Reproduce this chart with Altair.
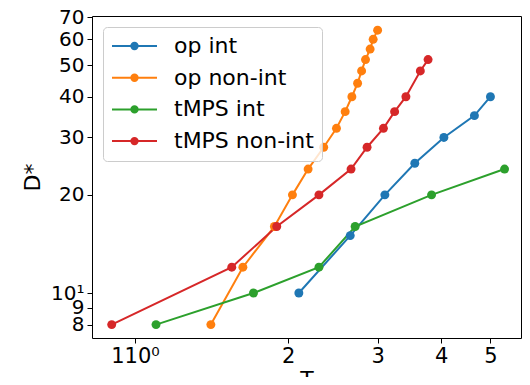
import altair as alt
import pandas as pd

series_names = ["op int", "op non-int", "tMPS int", "tMPS non-int"]
series_colors = ["#1f77b4", "#ff7f0e", "#2ca02c", "#d62728"]

op_int_T = [2.1, 2.65, 3.1, 3.55, 4.05, 4.65, 5.0]
op_int_D = [10, 15, 20, 25, 30, 35, 40]
op_nonint_T = [1.41, 1.63, 1.88, 2.04, 2.19, 2.35, 2.49, 2.59, 2.67, 2.74, 2.79, 2.84, 2.9, 2.94, 3.0]
op_nonint_D = [8, 12, 16, 20, 24, 28, 32, 36, 40, 44, 48, 52, 56, 60, 64]
tmps_int_T = [1.1, 1.71, 2.3, 2.71, 3.83, 5.33]
tmps_int_D = [8, 10, 12, 16, 20, 24]
tmps_nonint_T = [0.9, 1.55, 1.9, 2.3, 2.66, 2.86, 3.08, 3.24, 3.41, 3.64, 3.77]
tmps_nonint_D = [8, 12, 16, 20, 24, 28, 32, 36, 40, 48, 52]

x_ticks = [1, 2, 3, 4, 5]
y_ticks = [8, 9, 10, 20, 30, 40, 50, 60, 70]

rows = []
for name, Ts, Ds in zip(series_names,
                        [op_int_T, op_nonint_T, tmps_int_T, tmps_nonint_T],
                        [op_int_D, op_nonint_D, tmps_int_D, tmps_nonint_D]):
    for i, (t, d) in enumerate(zip(Ts, Ds)):
        rows.append({"series": name, "T": t, "D": d, "idx": i})
df = pd.DataFrame(rows)

FONT = "DejaVu Sans"

legend_symbol = (
    "M-1,0H1"
    "M0.142,0A0.142,0.142,0,1,1,-0.142,0A0.142,0.142,0,1,1,0.142,0"
    "M0.08,0A0.08,0.08,0,1,1,-0.08,0A0.08,0.08,0,1,1,0.08,0"
    "M0.027,0A0.027,0.027,0,1,1,-0.027,0A0.027,0.027,0,1,1,0.027,0"
)

x_enc = alt.X(
    "T:Q",
    scale=alt.Scale(type="log", domain=[0.8232, 5.742], nice=False),
    axis=alt.Axis(
        values=x_ticks,
        labelExpr="datum.value == 1 ? '110⁰' : format(datum.value, 'd')",
        labelFontSize=21, labelFont=FONT, labelColor="black",
        labelOverlap=False, labelFlush=False, labelPadding=2,
        tickSize=5, tickColor="black", domain=False, grid=False,
        title="T", titleFont=FONT, titleFontSize=22, titleFontWeight="normal",
        titleColor="black", titleY=48, titleBaseline="alphabetic",
    ),
)
y_enc = alt.Y(
    "D:Q",
    scale=alt.Scale(type="log", domain=[7.278, 70.74], nice=False),
    axis=alt.Axis(
        values=y_ticks,
        labelExpr="datum.value == 10 ? '10¹' : format(datum.value, 'd')",
        labelFontSize=20, labelFont=FONT, labelColor="black",
        labelOverlap=False, labelFlush=False, labelPadding=3,
        tickSize=5, tickColor="black", domain=False, grid=False,
        title="D*", titleFont=FONT, titleFontSize=22, titleFontWeight="normal",
        titleColor="black", titleX=-53, titleY=161, titleBaseline="alphabetic",
        titleAlign="center",
    ),
)
color_scale = alt.Scale(domain=series_names, range=series_colors)

lines = alt.Chart(df).mark_line(strokeWidth=2).encode(
    x=x_enc,
    y=y_enc,
    color=alt.Color(
        "series:N", scale=color_scale, sort=series_names,
        legend=alt.Legend(
            title=None, orient="none", legendX=11, legendY=11,
            symbolType=legend_symbol, symbolSize=2025, symbolStrokeWidth=2,
            clipHeight=22, rowPadding=9.7, labelOffset=16, padding=8,
            labelFont=FONT, labelFontSize=22, labelColor="black",
            fillColor="rgba(255,255,255,0.8)", strokeColor="#cccccc",
            cornerRadius=4, labelLimit=300,
        ),
    ),
    order="idx:Q",
    detail="series:N",
)

points = alt.Chart(df).mark_circle(size=80, opacity=1).encode(
    x="T:Q",
    y="D:Q",
    color=alt.Color("series:N", scale=color_scale, legend=None),
)

chart = alt.layer(lines, points).properties(
    width=429,
    height=322,
    autosize=alt.AutoSizeParams(type="none"),
    padding={"left": 84, "top": 8, "right": 1, "bottom": 39},
).configure_view(stroke="black", strokeWidth=1)

chart.save("out.html", embed_options={"renderer": "svg", "actions": False})
